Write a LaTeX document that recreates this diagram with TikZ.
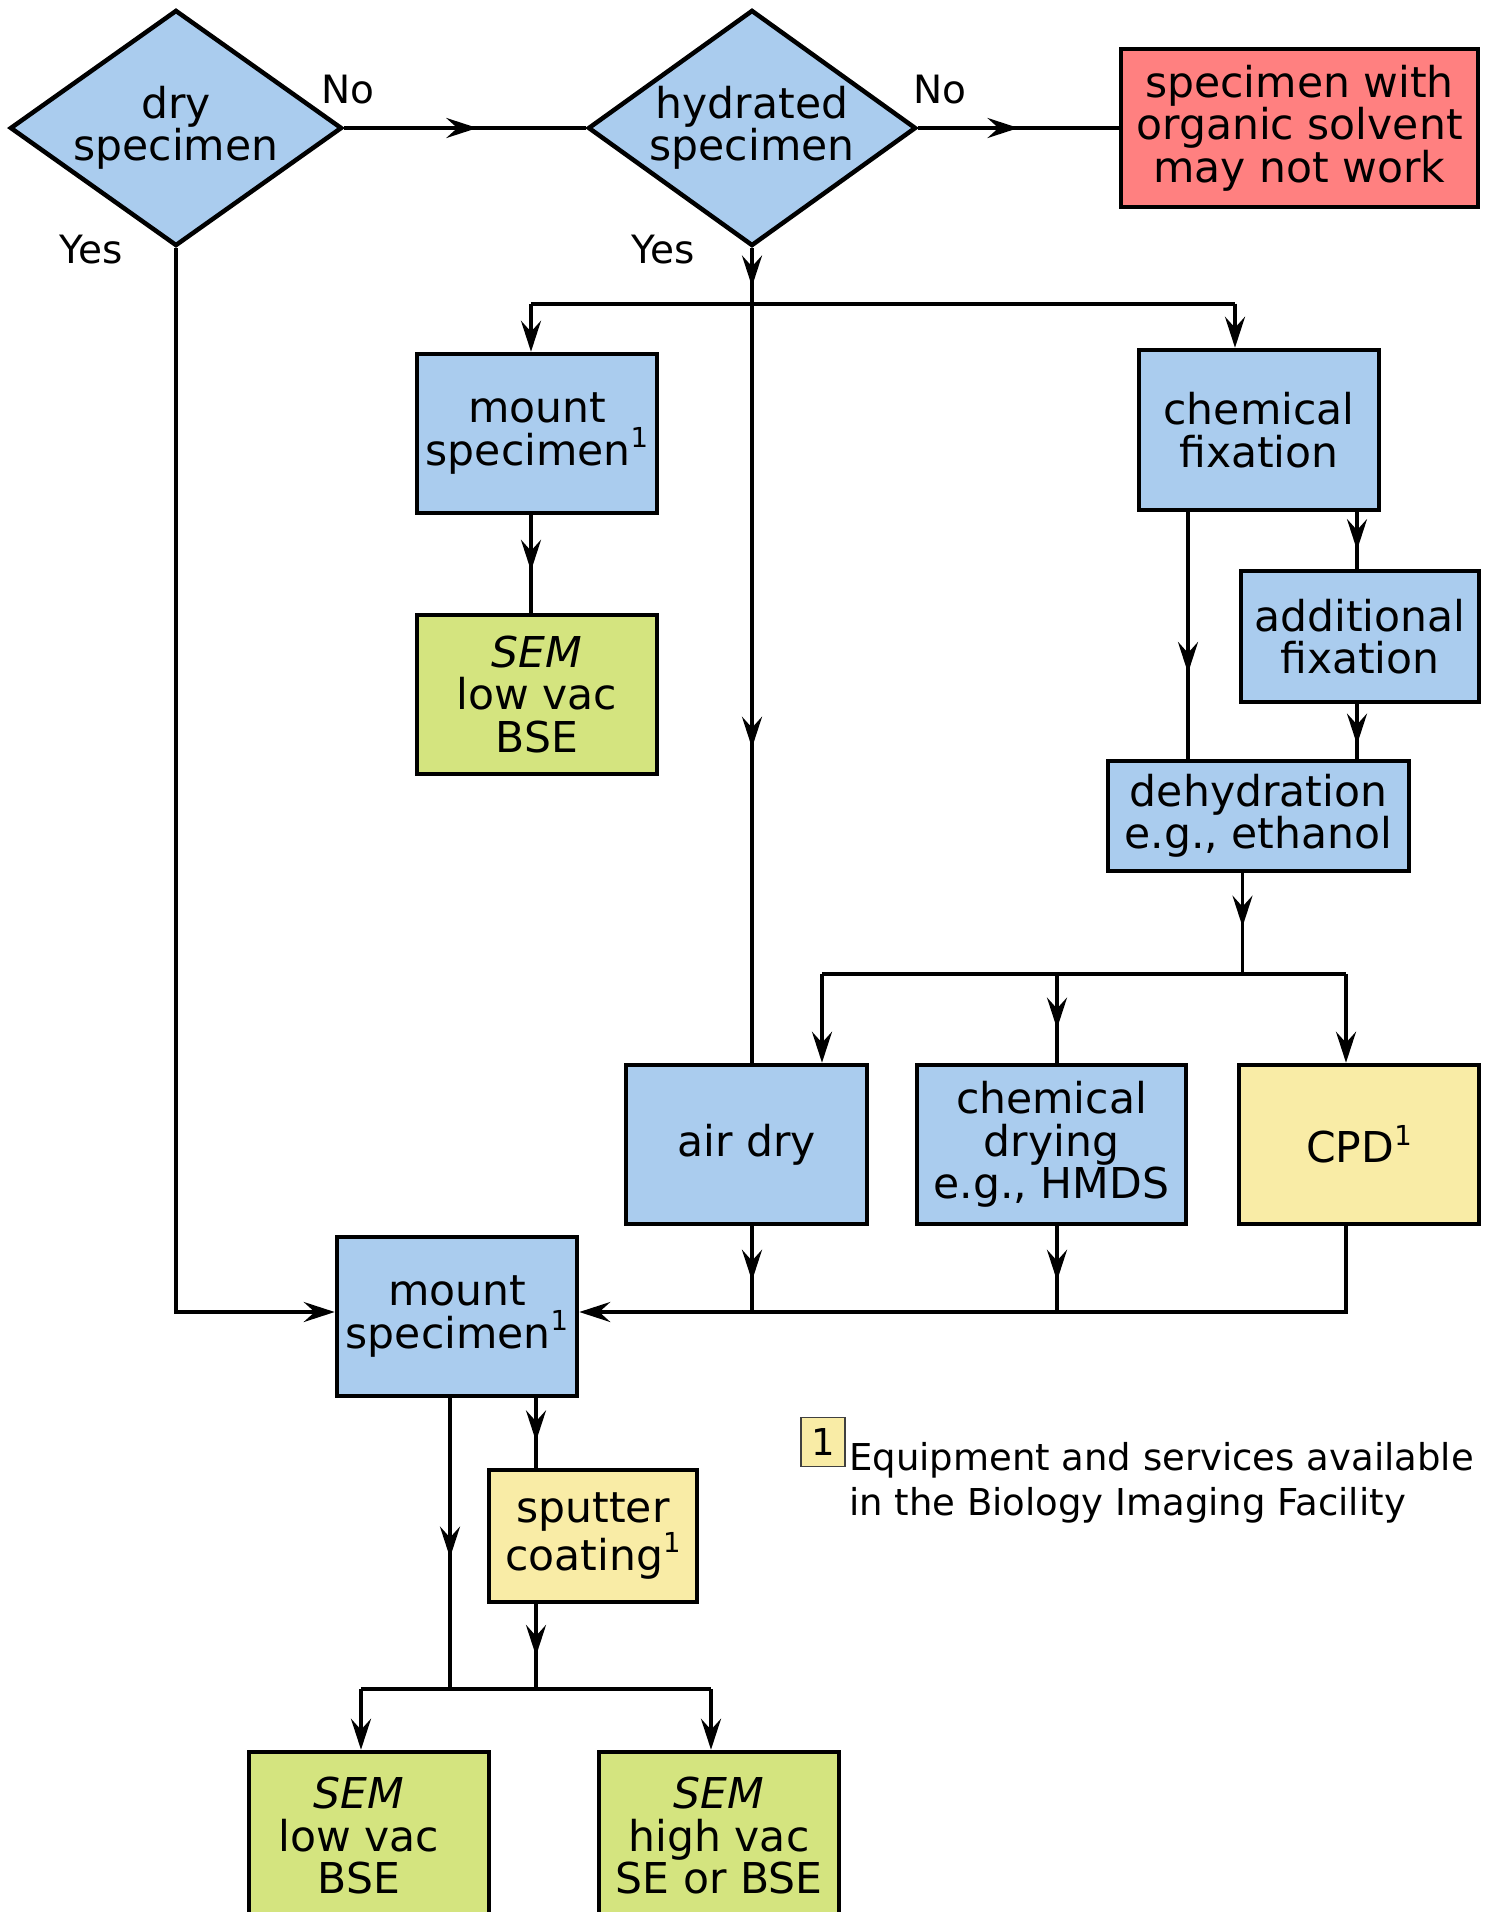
\documentclass[tikz,border=0pt]{standalone}
\usepackage{fontspec}
\setmainfont{DejaVu Sans}
\usetikzlibrary{shapes.geometric,arrows.meta,decorations.markings}
\definecolor{cblue}{HTML}{AACCEE}
\definecolor{cred}{HTML}{FF8080}
\definecolor{cyel}{HTML}{F9ECA6}
\definecolor{cgreen}{HTML}{D4E47F}
\newcommand\sone{\raisebox{17.5pt}{\fontsize{27.5}{27.5}\selectfont 1}}
\tikzset{
  >={Stealth[length=31pt,width=20pt,inset=11pt]},
  mainfont/.style={font=\fontsize{42.5}{42.5}\selectfont},
  box/.style={draw, line width=4.5pt, rectangle, align=center, inner sep=0pt, mainfont},
  dia/.style={draw, line width=4.5pt, diamond, aspect=1.4, fill=cblue, align=center, inner sep=0pt, mainfont},
  conn/.style={draw, line width=3.8pt},
  midarr/.style={postaction={decorate}, decoration={markings, mark=at position #1 with {\arrow{>}}}},
  lbl/.style={font=\fontsize{39}{39}\selectfont, inner sep=0pt},
}
\begin{document}
\begin{tikzpicture}[x=1pt,y=-1pt]
\useasboundingbox (0,0) rectangle (1489,1912);
% nodes
\node[dia, minimum width=332pt, minimum height=236pt] (dry) at (176,128) {dry\\specimen};
\node[dia, minimum width=328pt, minimum height=236pt] (hyd) at (752,128) {hydrated\\specimen};
\node[box, fill=cred, minimum width=357pt, minimum height=158pt] (red) at (1299.5,128) {specimen with\\organic solvent\\may not work};
\node[box, fill=cblue, minimum width=240pt, minimum height=159pt] (mount1) at (537,433.5) {mount\\specimen\sone};
\node[box, fill=cgreen, minimum width=240pt, minimum height=159pt] (sem1) at (537,694.5) {\textit{SEM}\\low vac\\BSE};
\node[box, fill=cblue, minimum width=240pt, minimum height=160pt] (chemfix) at (1259,430) {chemical\\fixation};
\node[box, fill=cblue, minimum width=238pt, minimum height=131pt] (addfix) at (1360,636.5) {additional\\fixation};
\node[box, fill=cblue, minimum width=301pt, minimum height=110pt] (dehyd) at (1258.5,816) {dehydration\\e.g., ethanol};
\node[box, fill=cblue, minimum width=241pt, minimum height=159pt] (airdry) at (746.5,1144.5) {air dry};
\node[box, fill=cblue, minimum width=269pt, minimum height=159pt] (chemdry) at (1051.5,1144.5) {chemical\\drying\\e.g., HMDS};
\node[box, fill=cyel, minimum width=240pt, minimum height=159pt] (cpd) at (1359,1144.5) {CPD\sone};
\node[box, fill=cblue, minimum width=240pt, minimum height=159pt] (mount2) at (457,1316.5) {mount\\specimen\sone};
\node[box, fill=cyel, minimum width=208pt, minimum height=132pt] (sputter) at (593,1536) {sputter\\coating\sone};
\node[box, fill=cgreen, minimum width=240pt, minimum height=168pt] (sem2) at (369,1836) {\textit{SEM}\kern20pt\\low vac\kern20pt\\BSE\kern20pt};
\node[box, fill=cgreen, minimum width=240pt, minimum height=168pt] (sem3) at (719,1836) {\textit{SEM}\\high vac\\SE or BSE};
% labels
\node[lbl] (no1) at (348,90) {No};
\node[lbl] (no2) at (940,90) {No};
\node[lbl] (yes1) at (91,250) {Yes};
\node[lbl] (yes2) at (663,250) {Yes};
% legend
\node[draw=black!75, line width=1.5pt, fill=cyel, minimum width=44pt, minimum height=49pt, inner sep=0pt, font=\fontsize{37}{37}\selectfont] (leg1) at (823,1442) {1};
\node[anchor=west, align=left, inner sep=0pt, font=\fontsize{37}{45}\selectfont] (legtxt) at (849,1483) {Equipment and services available\\in the Biology Imaging Facility};
% coordinates
\coordinate (s1) at (752,303.7);
\coordinate (s1l) at (531,303.7);
\coordinate (s1r) at (1235,303.7);
\coordinate (cfl) at (1188,0);
\coordinate (cfr) at (1357,0);
\coordinate (s2) at (1242.5,974);
\coordinate (s2l) at (822,974);
\coordinate (s2m) at (1057,974);
\coordinate (s2r) at (1346,974);
\coordinate (b1) at (752,1312);
\coordinate (b2) at (1057,1312);
\coordinate (b3) at (1346,1312);
\coordinate (m2l) at (450,1689);
\coordinate (m2r) at (536,1689);
\coordinate (s3l) at (361,1689);
\coordinate (s3r) at (711,1689);
% connectors
\draw[conn, midarr=0.551] (dry.east) -- (hyd.west);
\draw[conn, midarr=0.5] (hyd.east) -- (red.west);
\draw[conn, midarr=0.69] (hyd.south) -- (s1);
\draw[conn] (s1l) -- (s1r);
\draw[conn,->] (s1l) -- (s1l |- mount1.north);
\draw[conn,->] (s1r) -- (s1r |- chemfix.north);
\draw[conn, midarr=0.585] (s1) -- (s1 |- airdry.north);
\draw[conn, midarr=0.57] (mount1.south -| s1l) -- (sem1.north -| s1l);
\draw[conn, midarr=0.652] (chemfix.south -| cfl) -- (dehyd.north -| cfl);
\draw[conn, midarr=0.67] (chemfix.south -| cfr) -- (addfix.north -| cfr);
\draw[conn, midarr=0.74] (addfix.south -| cfr) -- (dehyd.north -| cfr);
\draw[conn, midarr=0.53] (dehyd.south -| s2) -- (s2);
\draw[conn] (s2l) -- (s2r);
\draw[conn,->] (s2l) -- (s2l |- airdry.north);
\draw[conn, midarr=0.615] (s2m) -- (s2m |- chemdry.north);
\draw[conn,->] (s2r) -- (s2r |- cpd.north);
\draw[conn, midarr=0.636] (airdry.south -| b1) -- (b1);
\draw[conn, midarr=0.636] (chemdry.south -| b2) -- (b2);
\draw[conn,->] (cpd.south -| b3) -- (b3) -- (b3 -| mount2.east);
\draw[conn,->] (dry.south) -- (dry.south |- b1) -- (mount2.west |- b1);
\draw[conn, midarr=0.548] (mount2.south -| m2l) -- (m2l);
\draw[conn, midarr=0.62] (mount2.south -| m2r) -- (sputter.north -| m2r);
\draw[conn, midarr=0.61] (sputter.south -| m2r) -- (m2r);
\draw[conn] (s3l) -- (s3r);
\draw[conn,->] (s3l) -- (s3l |- sem2.north);
\draw[conn,->] (s3r) -- (s3r |- sem3.north);
\end{tikzpicture}
\end{document}
